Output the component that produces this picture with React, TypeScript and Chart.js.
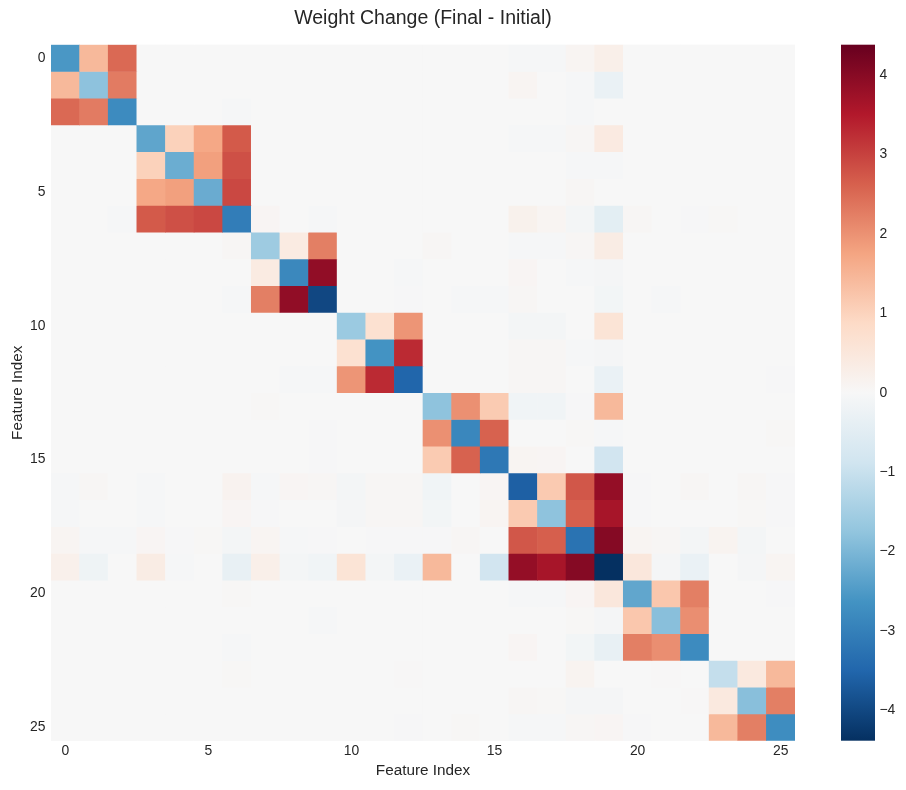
import { useEffect, useRef } from "react";
import { Chart, registerables } from "chart.js";

Chart.register(...registerables);

// feature indices, used for both axes
const features = [
  "0", "1", "2", "3", "4", "5", "6", "7", "8", "9", "10", "11", "12",
  "13", "14", "15", "16", "17", "18", "19", "20", "21", "22", "23", "24", "25",
];
const axisTicks = [0, 5, 10, 15, 20, 25];
const colorbarTicks = [-4, -3, -2, -1, 0, 1, 2, 3, 4];
const vMax = 4.38;

// weight change (final - initial), row = feature i, column = feature j
const weightDelta: number[][] = [
  [-2.55, 1.43, 2.52, 0, 0, 0, 0, 0, 0, 0, 0, 0, 0, 0, 0, 0, -0.05, -0.05, 0.1, 0.25, 0, 0, 0, 0, 0, 0],
  [1.43, -1.8, 2.28, 0, 0, 0, 0, 0, 0, 0, 0, 0, 0, 0, 0, 0, 0.1, 0, -0.05, -0.3, 0, 0, 0, 0, 0, 0],
  [2.52, 2.28, -2.79, 0, 0, 0, -0.05, 0, 0, 0, 0, 0, 0, 0, 0, 0, 0, 0, -0.05, 0, 0, 0, 0, 0, 0, 0],
  [0, 0, 0, -2.32, 1.03, 1.7, 2.7, 0, 0, 0, 0, 0, 0, 0, 0, 0, -0.05, -0.05, 0.05, 0.4, 0, 0, 0, 0, 0, 0],
  [0, 0, 0, 1.03, -2.18, 1.82, 2.82, 0, 0, 0, 0, 0, 0, 0, 0, 0, 0, 0, -0.05, -0.05, 0, 0, 0, 0, 0, 0],
  [0, 0, 0, 1.7, 1.82, -2.2, 2.92, 0, 0, 0, 0, 0, 0, 0, 0, 0, 0, 0, 0.05, 0, 0, 0, 0, 0, 0, 0],
  [0, 0, -0.05, 2.7, 2.82, 2.92, -3.06, 0.08, 0, -0.05, 0, 0, 0, 0, 0, 0, 0.2, 0.1, -0.1, -0.45, 0.05, 0, -0.03, 0.03, 0, 0],
  [0, 0, 0, 0, 0, 0, 0.05, -1.59, 0.38, 2.24, 0, 0, 0, 0.05, 0, 0, -0.05, -0.05, 0.05, 0.35, 0, 0, 0, 0, 0, 0],
  [0, 0, 0, 0, 0, 0, 0, 0.38, -2.84, 3.89, 0, 0, -0.05, 0, 0, 0, 0.08, 0, -0.05, -0.08, 0, 0, 0, 0, 0, 0],
  [0, 0, 0, 0, 0, 0, -0.05, 2.24, 3.89, -4.0, 0, 0, -0.03, 0, -0.05, -0.05, 0.05, 0, 0, -0.12, 0, -0.05, 0, 0, 0, 0],
  [0, 0, 0, 0, 0, 0, 0, 0, 0, 0, -1.62, 0.69, 1.95, 0, 0, 0, -0.1, -0.1, 0, 0.6, 0, 0, 0, 0, 0, 0],
  [0, 0, 0, 0, 0, 0, 0, 0, 0, 0, 0.69, -2.63, 3.29, 0, 0, 0, 0.05, 0.05, -0.05, -0.08, 0, 0, 0, 0, 0, 0],
  [0, 0, 0, 0, 0, 0, 0, 0, -0.05, -0.05, 1.95, 3.29, -3.51, 0, 0, 0, 0.05, 0.05, 0, -0.3, 0, 0, 0, 0, 0, -0.03],
  [0, 0, 0, 0, 0, 0, 0, 0.03, 0, 0, 0, 0, 0, -1.78, 2.02, 1.14, -0.15, -0.15, -0.03, 1.43, 0, 0, 0, 0, 0, 0],
  [0, 0, 0, 0, 0, 0, 0, 0, 0, -0.03, 0, 0, 0, 2.02, -2.87, 2.6, 0, 0, 0.03, -0.05, 0, 0, 0, 0, 0, 0.03],
  [0, 0, 0, 0, 0, 0, 0, 0, 0, -0.03, 0, 0, 0, 1.14, 2.6, -3.16, 0.1, 0.08, 0, -0.86, 0, 0, 0, 0, 0, 0],
  [-0.05, 0.05, 0, -0.05, 0, 0, 0.15, -0.05, 0.08, 0.05, -0.1, 0.05, 0.05, -0.15, 0, 0.08, -3.6, 1.15, 2.74, 3.86, -0.03, 0, 0.05, 0, 0.05, -0.03],
  [-0.05, 0, 0, -0.05, 0, 0, 0.08, -0.03, 0, 0, -0.08, 0.05, 0.05, -0.12, 0, 0.1, 1.15, -1.78, 2.64, 3.63, -0.03, 0, 0, 0, 0.03, -0.03],
  [0.1, -0.05, -0.05, 0.08, -0.03, 0.03, -0.1, 0.1, -0.05, -0.03, 0, -0.03, -0.03, -0.03, 0.05, 0, 2.74, 2.64, -3.26, 4.03, 0.1, 0.05, -0.1, 0.12, -0.1, 0],
  [0.22, -0.2, 0, 0.35, -0.05, 0, -0.35, 0.25, -0.1, -0.15, 0.6, -0.1, -0.3, 1.43, 0, -0.86, 3.86, 3.63, 4.03, -4.38, 0.5, -0.08, -0.3, 0, -0.08, 0.1],
  [0, 0, 0, 0, 0, 0, 0.03, 0, 0, 0, 0, 0, 0, 0, 0, 0, -0.05, -0.05, 0.08, 0.5, -2.3, 1.2, 2.24, 0, 0, -0.03],
  [0, 0, 0, 0, 0, 0, 0, 0, 0, -0.05, 0, 0, 0, 0, 0, 0, 0, 0, 0.03, -0.08, 1.2, -1.85, 2.04, 0, 0, 0],
  [0, 0, 0, 0, 0, 0, -0.05, 0, 0, 0, 0, 0, 0, 0, 0, 0, 0.08, 0, -0.12, -0.35, 2.24, 2.04, -2.78, 0, 0, 0],
  [0, 0, 0, 0, 0, 0, 0.03, 0, 0, 0, 0, 0, 0.02, 0, 0, 0, 0, 0, 0.12, 0, 0, 0.02, 0, -1.06, 0.44, 1.43],
  [0, 0, 0, 0, 0, 0, 0, 0, 0, 0, 0, 0, 0, 0, 0, 0, 0.05, 0.03, -0.08, -0.08, 0, 0, 0.02, 0.44, -1.85, 2.24],
  [0, 0, 0, 0, 0, 0, 0, 0, 0, 0, 0, 0, -0.03, 0, 0.03, 0, -0.05, -0.05, 0.05, 0.08, -0.03, 0, 0, 1.43, 2.24, -2.75],
];

// RdBu_r, low -> high
const rdbuR = [
  "#053061", "#2166ac", "#4393c3", "#92c5de", "#d1e5f0", "#f7f7f7",
  "#fddbc7", "#f4a582", "#d6604d", "#b2182b", "#67001f",
];

const FONT = "'Liberation Sans', Arial, sans-serif";
const INK = "#262626";

function hexToRgb(h: string) {
  const n = parseInt(h.slice(1), 16);
  return [(n >> 16) & 255, (n >> 8) & 255, n & 255];
}

function colorFor(v: number) {
  let t = (v + vMax) / (2 * vMax);
  t = Math.max(0, Math.min(1, t));
  const pos = t * (rdbuR.length - 1);
  const i = Math.min(rdbuR.length - 2, Math.floor(pos));
  const f = pos - i;
  const a = hexToRgb(rdbuR[i]);
  const b = hexToRgb(rdbuR[i + 1]);
  const c = a.map((x, k) => Math.round(x + (b[k] - x) * f));
  return `rgb(${c[0]}, ${c[1]}, ${c[2]})`;
}

const heatBackground = {
  id: "heatBackground",
  beforeDatasetsDraw(chart: any) {
    const { ctx, chartArea } = chart;
    ctx.save();
    ctx.fillStyle = colorFor(0);
    ctx.fillRect(chartArea.left, chartArea.top, chartArea.right - chartArea.left, chartArea.bottom - chartArea.top);
    ctx.restore();
  },
};

const colorbarFill = {
  id: "colorbarFill",
  beforeDatasetsDraw(chart: any) {
    const { ctx, chartArea, scales } = chart;
    const top = scales.y.getPixelForValue(vMax);
    const bottom = scales.y.getPixelForValue(-vMax);
    const grad = ctx.createLinearGradient(0, bottom, 0, top);
    rdbuR.forEach((c, i) => grad.addColorStop(i / (rdbuR.length - 1), c));
    ctx.save();
    ctx.fillStyle = grad;
    ctx.fillRect(chartArea.left, top, chartArea.right - chartArea.left, bottom - top);
    ctx.restore();
  },
};

const tickFont = { family: FONT, size: 13.9 };
const labelFont = { family: FONT, size: 15.3 };

function Heatmap() {
  const canvasRef = useRef<HTMLCanvasElement | null>(null);
  const chartRef = useRef<Chart | null>(null);

  useEffect(() => {
    if (!canvasRef.current) return;
    if (chartRef.current) chartRef.current.destroy();

    const datasets = weightDelta.map((row, r) => ({
      label: features[r],
      data: row.map(() => [r, r + 1]),
      backgroundColor: row.map((v) => colorFor(v)),
      borderWidth: 0,
      barPercentage: 1,
      categoryPercentage: 1,
      grouped: false,
    }));

    chartRef.current = new Chart(canvasRef.current, {
      type: "bar",
      data: { labels: features, datasets: datasets as any },
      plugins: [heatBackground],
      options: {
        responsive: true,
        maintainAspectRatio: false,
        animation: false,
        events: [],
        layout: { padding: { left: 0, right: 25, top: 0, bottom: 0 } },
        plugins: {
          legend: { display: false },
          tooltip: { enabled: false },
          title: {
            display: true,
            text: "Weight Change (Final - Initial)",
            color: INK,
            fullSize: false,
            font: { family: FONT, size: 19.5, weight: "normal" },
            padding: { top: 6.6, bottom: 14.7 },
          },
        },
        scales: {
          x: {
            type: "category",
            offset: true,
            grid: { display: false, drawTicks: false },
            border: { display: false },
            ticks: {
              autoSkip: false,
              maxRotation: 0,
              padding: 2,
              color: INK,
              font: tickFont,
              callback: (_v: any, i: number) => (axisTicks.includes(i) ? features[i] : ""),
            },
            title: {
              display: true,
              text: "Feature Index",
              color: INK,
              font: labelFont,
              padding: { top: 0, bottom: 9.8 },
            },
            afterFit: (s: any) => {
              s.height = 49.3;
            },
          },
          y: {
            type: "linear",
            min: 0,
            max: features.length,
            reverse: true,
            grid: { display: false, drawTicks: false },
            border: { display: false },
            afterBuildTicks: (s: any) => {
              s.ticks = axisTicks.map((v) => ({ value: v + 0.5 }));
            },
            ticks: {
              padding: 5.5,
              color: INK,
              font: tickFont,
              callback: (v: any) => String(Number(v) - 0.5),
            },
            title: {
              display: true,
              text: "Feature Index",
              color: INK,
              font: labelFont,
              padding: { top: 8.8, bottom: 0 },
            },
            afterFit: (s: any) => {
              s.width = 51;
            },
          },
        },
      },
    });

    return () => {
      if (chartRef.current) {
        chartRef.current.destroy();
        chartRef.current = null;
      }
    };
  }, []);

  return (
    <div style={{ position: "absolute", left: 0, top: 0, width: 820, height: 790 }}>
      <canvas ref={canvasRef} />
    </div>
  );
}

function Colorbar() {
  const canvasRef = useRef<HTMLCanvasElement | null>(null);
  const chartRef = useRef<Chart | null>(null);

  useEffect(() => {
    if (!canvasRef.current) return;
    if (chartRef.current) chartRef.current.destroy();

    chartRef.current = new Chart(canvasRef.current, {
      type: "scatter",
      data: { datasets: [{ data: [] }] },
      plugins: [colorbarFill],
      options: {
        responsive: true,
        maintainAspectRatio: false,
        animation: false,
        events: [],
        layout: { padding: { left: 21, right: 0, top: 44.7, bottom: 49.3 } },
        plugins: { legend: { display: false }, tooltip: { enabled: false } },
        scales: {
          x: { type: "linear", display: false, min: 0, max: 1 },
          y: {
            type: "linear",
            position: "right",
            min: -vMax,
            max: vMax,
            grid: { display: false, drawTicks: false },
            border: { display: false },
            afterBuildTicks: (s: any) => {
              s.ticks = colorbarTicks.map((v) => ({ value: v }));
            },
            ticks: {
              padding: 4.5,
              color: INK,
              font: tickFont,
              callback: (v: any) => (Number(v) < 0 ? "\u2212" + Math.abs(Number(v)) : String(v)),
            },
            afterFit: (s: any) => {
              s.width = 31;
            },
          },
        },
      },
    });

    return () => {
      if (chartRef.current) {
        chartRef.current.destroy();
        chartRef.current = null;
      }
    };
  }, []);

  return (
    <div style={{ position: "absolute", left: 820, top: 0, width: 86, height: 790 }}>
      <canvas ref={canvasRef} />
    </div>
  );
}

export default function App() {
  return (
    <div style={{ position: "absolute", left: 0, top: 0, width: 906, height: 790, background: "#ffffff" }}>
      <Heatmap />
      <Colorbar />
    </div>
  );
}
